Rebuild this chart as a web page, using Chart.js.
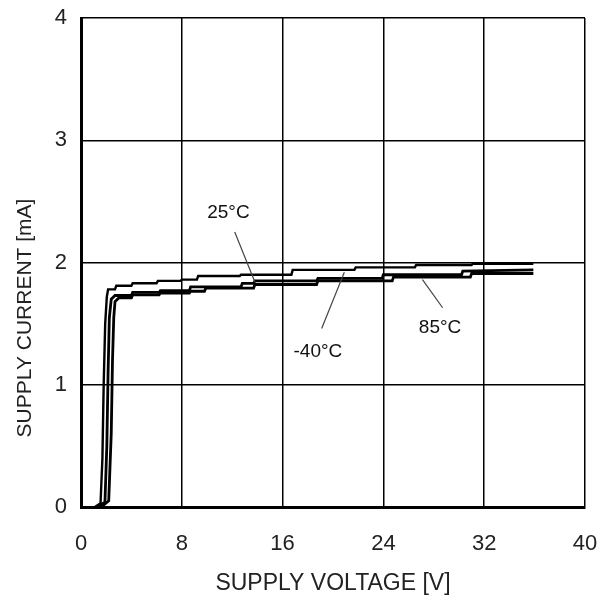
<html>
<head>
<meta charset="utf-8">
<title>Supply current vs supply voltage</title>
<script src="https://cdn.jsdelivr.net/npm/chart.js"></script>
<style>
  body { margin: 0; background: #fff; }
  canvas { display: block; }
</style>
</head>
<body>
<canvas id="myChart" width="611" height="601"></canvas>
<script>
// tick labels
const xTicks = [0, 8, 16, 24, 32, 40];
const yTicks = [0, 1, 2, 3, 4];

// -40 C curve (upper thin line)
const voltM40 = [1.1, 1.55, 1.7, 1.8, 1.92, 2.05, 2.15, 2.7, 2.8, 4.0, 4.1, 6.0, 6.1, 7.9, 8.0, 9.2, 9.3, 12.6, 12.7, 16.7, 16.8, 21.7, 21.8, 26.5, 26.6, 31.0, 31.1, 35.9];
const currM40 = [0.0, 0.03, 0.4, 1.0, 1.5, 1.72, 1.78, 1.78, 1.81, 1.81, 1.83, 1.83, 1.85, 1.85, 1.86, 1.86, 1.89, 1.89, 1.90, 1.90, 1.94, 1.94, 1.96, 1.96, 1.98, 1.98, 1.99, 1.99];

// 25 C curve
const volt25 = [1.3, 1.9, 2.05, 2.15, 2.25, 2.4, 2.7, 4.0, 4.1, 6.2, 6.3, 8.6, 8.7, 12.7, 12.8, 13.7, 13.8, 18.7, 18.8, 23.9, 24.0, 30.2, 30.3, 35.9];
const curr25 = [0.0, 0.04, 0.5, 1.1, 1.55, 1.7, 1.73, 1.73, 1.755, 1.755, 1.77, 1.77, 1.80, 1.80, 1.83, 1.83, 1.85, 1.85, 1.87, 1.87, 1.90, 1.90, 1.93, 1.94];

// 85 C curve
const volt85 = [1.6, 2.2, 2.4, 2.5, 2.6, 2.7, 3.0, 4.0, 4.1, 6.2, 6.3, 8.6, 8.7, 9.8, 9.9, 13.7, 13.8, 18.7, 18.8, 24.7, 24.8, 30.9, 31.0, 35.9];
const curr85 = [0.0, 0.05, 0.6, 1.2, 1.55, 1.68, 1.71, 1.71, 1.735, 1.735, 1.75, 1.75, 1.765, 1.765, 1.79, 1.79, 1.82, 1.82, 1.85, 1.85, 1.88, 1.88, 1.91, 1.91];

function toPoints(xs, ys) {
  return xs.map(function(x, i) { return {x: x, y: ys[i]}; });
}

const FONT = "'Liberation Sans', Arial, sans-serif";

// curve labels with leader lines, in data units
const notes = [
  {text: '25°C',  tx: 11.7, ty: 2.41, x1: 12.2, y1: 2.25, x2: 13.8, y2: 1.84},
  {text: '-40°C', tx: 18.8, ty: 1.27, x1: 19.1, y1: 1.46, x2: 20.9, y2: 1.92},
  {text: '85°C',  tx: 28.5, ty: 1.47, x1: 28.7, y1: 1.63, x2: 27.1, y2: 1.86}
];

const notePlugin = {
  id: 'notes',
  afterDatasetsDraw(chart) {
    const c = chart.ctx, xs = chart.scales.x, ys = chart.scales.y;
    c.save();
    notes.forEach(function(n) {
      c.strokeStyle = '#444';
      c.lineWidth = 1.2;
      c.beginPath();
      c.moveTo(xs.getPixelForValue(n.x1), ys.getPixelForValue(n.y1));
      c.lineTo(xs.getPixelForValue(n.x2), ys.getPixelForValue(n.y2));
      c.stroke();
      c.fillStyle = '#111';
      c.font = '19px ' + FONT;
      c.textAlign = 'center';
      c.textBaseline = 'middle';
      c.fillText(n.text, xs.getPixelForValue(n.tx), ys.getPixelForValue(n.ty));
    });
    // y axis title sits a bit below the middle of the axis in the original
    c.translate(25, 318);
    c.rotate(-Math.PI / 2);
    c.fillStyle = '#222';
    c.font = '21px ' + FONT;
    c.fillText('SUPPLY CURRENT [mA]', 0, 0);
    c.restore();
  }
};

function line(label, xs, ys, w) {
  return {
    label: label,
    data: toPoints(xs, ys),
    borderColor: '#000',
    borderWidth: w,
    pointRadius: 0,
    tension: 0,
    fill: false
  };
}

var ctx = document.getElementById('myChart').getContext('2d');
var myChart = new Chart(ctx, {
  type: 'line',
  data: {
    datasets: [
      line('-40°C', voltM40, currM40, 2.4),
      line('25°C', volt25, curr25, 2.8),
      line('85°C', volt85, curr85, 2.8)
    ]
  },
  options: {
    responsive: false,
    animation: false,
    layout: { padding: { left: 0, right: 26, top: 18, bottom: 0 } },
    plugins: { legend: { display: false }, tooltip: { enabled: false } },
    scales: {
      x: {
        type: 'linear',
        min: 0, max: 40,
        afterBuildTicks: function(s) { s.ticks = xTicks.map(function(v) { return {value: v}; }); },
        afterFit: function(s) { s.height = 601 - 507; s.paddingLeft = 0; s.paddingRight = 0; },
        grid: { color: '#000', lineWidth: 1.5, drawTicks: false },
        border: { color: '#000', width: 3 },
        ticks: { color: '#222', padding: 24, font: { family: FONT, size: 22 } },
        title: { display: true, text: 'SUPPLY VOLTAGE [V]', color: '#222', padding: { top: 4 }, font: { family: FONT, size: 23 } }
      },
      y: {
        min: 0, max: 4,
        afterBuildTicks: function(s) { s.ticks = yTicks.map(function(v) { return {value: v}; }); },
        afterFit: function(s) { s.width = 81; s.paddingTop = 0; s.paddingBottom = 0; },
        grid: { color: '#000', lineWidth: 1.5, drawTicks: false },
        border: { color: '#000', width: 3 },
        ticks: { color: '#222', padding: 14, font: { family: FONT, size: 22 } },
        title: { display: false }
      }
    }
  },
  plugins: [notePlugin]
});
</script>
</body>
</html>
